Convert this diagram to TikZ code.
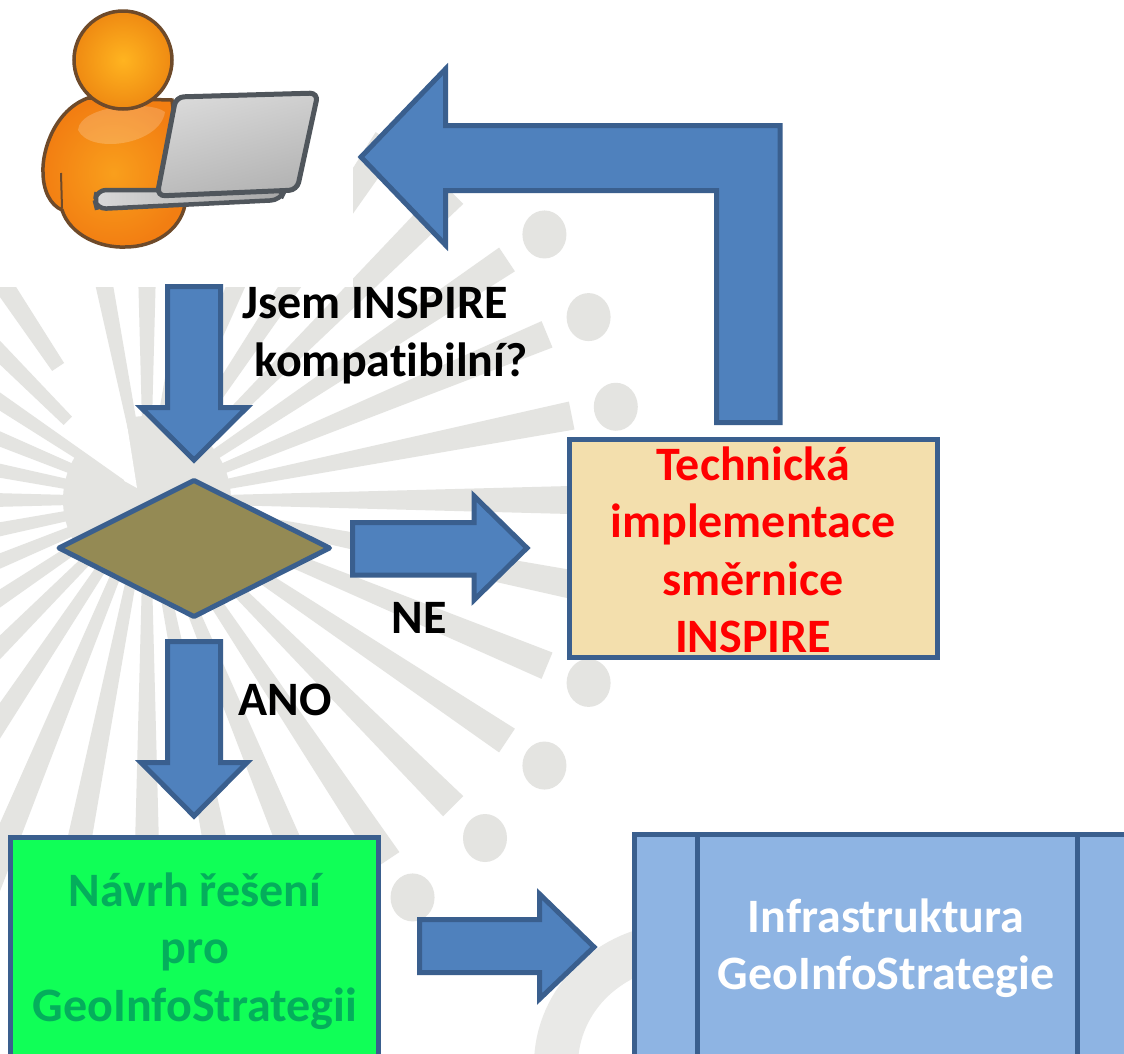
\documentclass[tikz,border=0pt]{standalone}
\usepackage{fontspec}
\setmainfont{Carlito}[Ligatures=NoCommon]
\definecolor{rayg}{HTML}{E4E4E1}
\definecolor{ringg}{HTML}{E9E9E7}
\definecolor{blueline}{HTML}{3A5F8E}
\definecolor{bluefill}{HTML}{4F81BD}
\definecolor{olive}{HTML}{948A54}
\definecolor{beige}{HTML}{F3DFAD}
\definecolor{lime}{HTML}{10FF57}
\definecolor{limetext}{HTML}{04AE5C}
\definecolor{paleblue}{HTML}{8EB4E3}
\definecolor{skin}{HTML}{6E4A2A}
\definecolor{lap}{HTML}{50565C}
\definecolor{headin}{HTML}{FFB420}
\definecolor{headout}{HTML}{EF8A12}
\definecolor{bodyin}{HTML}{F99F1C}
\definecolor{bodyout}{HTML}{F27E12}
\tikzset{
  blockarrow/.style={draw=blueline,fill=bluefill,line width=5pt,miter limit=20},
  boxshape/.style={draw=blueline,line width=5pt},
  lab/.style={font=\fontsize{48}{48}\selectfont\bfseries,anchor=base,inner sep=0pt},
  multilab/.style={font=\fontsize{48}{57.5}\selectfont\bfseries,align=center,anchor=center,inner sep=0pt},
}
% radial ray: angle, inner radius, outer radius
\newcommand{\sunray}[3]{%
  \fill[rayg]
   ({147+#2*cos(#1)+(3+0.026*#2)*sin(#1)},{500-#2*sin(#1)+(3+0.026*#2)*cos(#1)}) --
   ({147+#3*cos(#1)+(3+0.026*#3)*sin(#1)},{500-#3*sin(#1)+(3+0.026*#3)*cos(#1)}) --
   ({147+#3*cos(#1)-(3+0.026*#3)*sin(#1)},{500-#3*sin(#1)-(3+0.026*#3)*cos(#1)}) --
   ({147+#2*cos(#1)-(3+0.026*#2)*sin(#1)},{500-#2*sin(#1)-(3+0.026*#2)*cos(#1)}) -- cycle;}
\begin{document}
\begin{tikzpicture}[x=1pt,y=-1pt]
\useasboundingbox (0,0) rectangle (1124,1053);
\clip (0,0) rectangle (1124,1053);
\fill[white] (0,0) rectangle (1124,1053);
% --- sunburst background
\fill[rayg] (147,500) circle[radius=84];
\fill[white] (137,488) -- (72,452) -- (40,400) -- (120,380) -- cycle;
\foreach \a in {-90,-78.75,-67.5,-56.25,-45,-33.75,-22.5,-11.25,0,11.25,22.5,33.75,45,56.25,67.5,78.75,90}
  {\sunray{\a}{30}{433}}
\sunray{101.25}{15}{433}
\sunray{123.75}{160}{433}
\sunray{135}{112}{433}
\foreach \a in {146.25,157.5,168.75,180,191.25,202.5,213.75,225,236.25,247.5,258.75}
  {\sunray{\a}{30}{433}}
\foreach \a in {-67.5,-56.25,-45,-33.75,-22.5,-11.25,11.25,22.5,33.75}
  {\fill[rayg] ({147+478*cos(\a)},{500-478*sin(\a)}) ellipse[x radius=22,y radius=24];}
\draw[ringg,line width=44pt] (682,1065) ellipse[x radius=126,y radius=120];
% --- picture of the person on white
\fill[white] (0,0) rectangle (353,287);
\shade[inner color=bodyin,outer color=bodyout,draw=skin,line width=3.5pt]
  (88,98) .. controls (55,110) and (42,150) .. (43,172)
  .. controls (43,190) and (50,205) .. (62,210)
  .. controls (70,235) and (100,248) .. (125,247)
  .. controls (155,247) and (180,230) .. (185,205)
  -- (172,100) -- cycle;
\fill[white,opacity=0.2] (78,130) .. controls (80,105) and (150,100) .. (165,112) .. controls (160,145) and (90,155) .. (78,130) -- cycle;
\draw[skin,line width=2pt] (61,173) -- (62,208);
\shade[inner color=headin,outer color=headout,draw=skin,line width=3.5pt]
  (123,60) circle[radius=49];
\shade[left color=gray!30,right color=gray!70,draw=lap,line width=4.5pt,rounded corners=9pt]
  (97,190) -- (285,190) -- (280,200) -- (97,209) -- (95,201) -- cycle;
\shade[top color=gray!30,bottom color=gray!60,shading angle=15,draw=lap,line width=5pt,rounded corners=8pt]
  (176,97) -- (318,93) -- (297,190) -- (157,196) -- cycle;
% --- boxes
\node[boxshape,fill=beige,minimum width=368pt,minimum height=218pt,inner sep=0pt] (impl) at (753.5,548.5) {};
\node[multilab,text=red] at (753,550) {Technická\\implementace\\směrnice\\INSPIRE};
\node[boxshape,fill=lime,minimum width=368pt,minimum height=280pt,inner sep=0pt] (navrh) at (194.5,977.5) {};
\node[multilab,text=limetext] at (195,951) {Návrh řešení\\pro\\GeoInfoStrategii};
\node[boxshape,fill=paleblue,minimum width=540pt,minimum height=280pt,inner sep=0pt] (infra) at (904.5,974.5) {};
\draw[boxshape] (697,834) -- (697,1060);
\draw[boxshape] (1077,834) -- (1077,1060);
\node[multilab,text=white] at (886,948) {Infrastruktura\\GeoInfoStrategie};
\draw[draw=blueline,fill=olive,line width=5pt,line join=round] (59,548) -- (194,480.5) -- (329.5,548) -- (194,616.5) -- cycle;
% --- block arrows
\draw[blockarrow] (167.5,286.5) -- (220.5,286.5) -- (220.5,407.5) -- (247,407.5) -- (194,460) -- (141,407.5) -- (167.5,407.5) -- cycle;
\draw[blockarrow] (167.5,641.5) -- (220.5,641.5) -- (220.5,762.5) -- (247,762.5) -- (194,816) -- (141,762.5) -- (167.5,762.5) -- cycle;
\draw[blockarrow] (352.5,522.5) -- (474,522.5) -- (474,496) -- (527,548) -- (474,600) -- (474,575) -- (352.5,575) -- cycle;
\draw[blockarrow] (419.5,919.5) -- (539.5,919.5) -- (539.5,894) -- (594,947) -- (539.5,999) -- (539.5,972.5) -- (419.5,972.5) -- cycle;
\draw[blockarrow] (716.5,422.5) -- (716.5,190.5) -- (445.5,190.5) -- (445.5,245) -- (361,157) -- (445.5,69) -- (445.5,125.5) -- (780,125.5) -- (780,422.5) -- cycle;
% --- labels
\node[lab] (q1) at (375,318) {Jsem INSPIRE};
\node[lab] (q2) at (391,376) {kompatibilní?};
\node[lab] (ne) at (419,633) {NE};
\node[lab] (ano) at (285,715) {ANO};
\end{tikzpicture}
\end{document}
